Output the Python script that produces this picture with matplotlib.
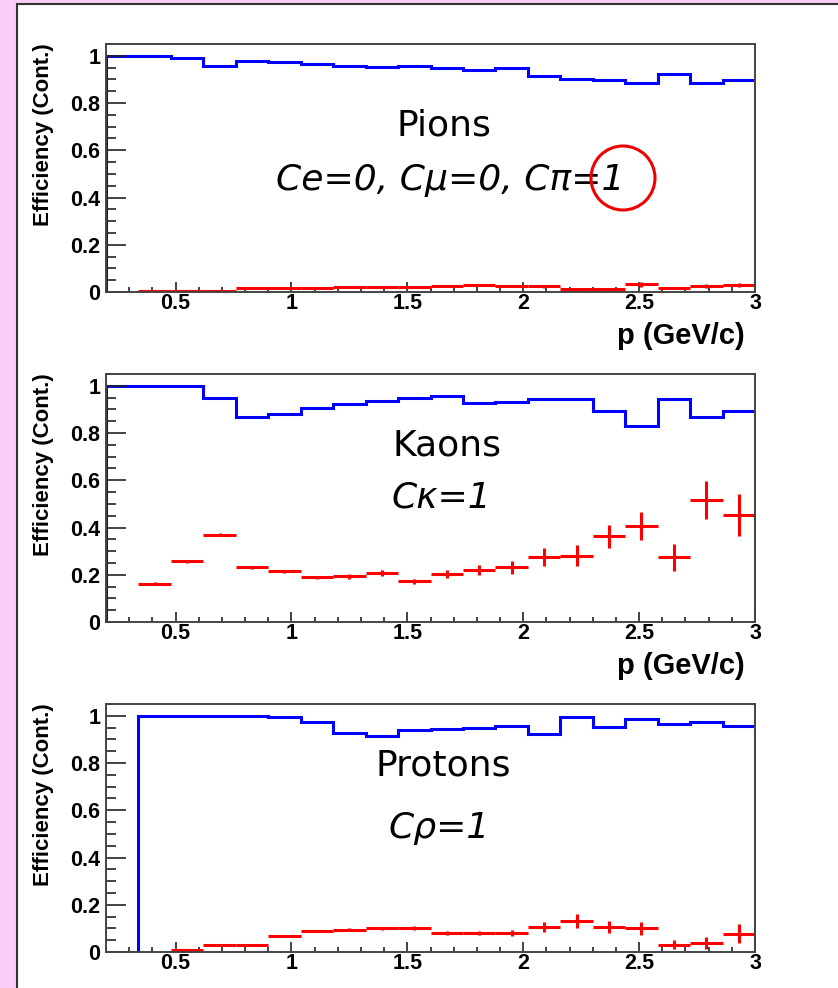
import numpy as np
import matplotlib.pyplot as plt
from matplotlib.patches import Rectangle, Ellipse
from matplotlib.ticker import MultipleLocator

# 20 bins in p from 0.2 to 3 GeV/c
edges = np.linspace(0.2, 3.0, 21)
centers = 0.5*(edges[:-1] + edges[1:])

# Pions
pi_eff = [1.0, 1.0, 0.99, 0.957, 0.98, 0.972, 0.965, 0.957, 0.952, 0.956,
          0.948, 0.94, 0.948, 0.914, 0.902, 0.897, 0.884, 0.925, 0.884, 0.897]
pi_cont = [np.nan, 0.004, 0.004, 0.004, 0.017, 0.017, 0.017, 0.023, 0.023, 0.023,
           0.025, 0.03, 0.025, 0.025, 0.011, 0.011, 0.033, 0.017, 0.025, 0.03]
pi_err = [0, 0.003, 0.003, 0.003, 0.004, 0.004, 0.004, 0.004, 0.004, 0.004,
          0.005, 0.005, 0.005, 0.006, 0.006, 0.006, 0.01, 0.006, 0.007, 0.01]

# Kaons
k_eff = [1.0, 1.0, 1.0, 0.949, 0.868, 0.881, 0.905, 0.925, 0.936, 0.949,
         0.957, 0.926, 0.932, 0.943, 0.943, 0.894, 0.828, 0.943, 0.868, 0.894]
k_cont = [np.nan, 0.163, 0.257, 0.369, 0.231, 0.214, 0.189, 0.193, 0.207, 0.172,
          0.203, 0.22, 0.231, 0.277, 0.281, 0.363, 0.406, 0.275, 0.518, 0.455]
k_err = [0, 0.008, 0.006, 0.006, 0.005, 0.007, 0.007, 0.01, 0.012, 0.012,
         0.018, 0.02, 0.028, 0.038, 0.046, 0.048, 0.058, 0.057, 0.08, 0.089]

# Protons
p_eff = [0.0, 1.0, 1.0, 1.0, 1.0, 0.994, 0.973, 0.929, 0.916, 0.942,
         0.945, 0.949, 0.955, 0.925, 0.993, 0.953, 0.986, 0.966, 0.974, 0.955]
p_cont = [np.nan, np.nan, 0.008, 0.03, 0.03, 0.068, 0.088, 0.095, 0.10, 0.10,
          0.081, 0.081, 0.081, 0.106, 0.133, 0.106, 0.10, 0.031, 0.038, 0.077]
p_err = [0, 0, 0.005, 0.004, 0.004, 0.005, 0.005, 0.006, 0.007, 0.008,
         0.009, 0.01, 0.012, 0.023, 0.03, 0.026, 0.027, 0.02, 0.025, 0.041]

# name, condition, data, x label?, text positions (axes fraction)
panels = [
    ("Pions", "Ce=0, Cμ=0, Cπ=1", pi_eff, pi_cont, pi_err, True, (0.521, 0.673), (0.53, 0.45)),
    ("Kaons", "Cκ=1", k_eff, k_cont, k_err, True, (0.526, 0.712), (0.516, 0.50)),
    ("Protons", "Cρ=1", p_eff, p_cont, p_err, False, (0.52, 0.753), (0.514, 0.50)),
]

W, H = 838, 988
fig = plt.figure(figsize=(W/100, H/100), dpi=100)
fig.patch.set_facecolor('#facdf9')
# white slide area with a dark frame (left and top edges only visible)
fig.patches.append(Rectangle((17/W, -0.05), 1, 1.05 - 4/H, transform=fig.transFigure,
                             facecolor='white', edgecolor='#333333', lw=1.5, zorder=-5))

tickfont = dict(family='Liberation Sans', weight='bold', size=15.5)
tops = [44, 374, 704]
for (name, cond, eff, cont, err, xlab, pos1, pos2), top in zip(panels, tops):
    ax = fig.add_axes([106/W, 1 - (top + 248)/H, 649/W, 248/H])
    ax.stairs(eff, edges, color='#0000ff', lw=2.2)
    ax.errorbar(centers, cont, xerr=0.07, yerr=err, fmt='none', ecolor='#ff0000',
                elinewidth=2.2, capsize=0)
    ax.set_xlim(0.2, 3.0)
    ax.set_ylim(0, 1.05)
    ax.xaxis.set_minor_locator(MultipleLocator(0.1))
    ax.yaxis.set_minor_locator(MultipleLocator(0.05))
    ax.set_xticks([0.5, 1, 1.5, 2, 2.5, 3])
    ax.set_xticklabels(['0.5', '1', '1.5', '2', '2.5', '3'], fontdict=tickfont)
    ax.set_yticks([0, 0.2, 0.4, 0.6, 0.8, 1])
    ax.set_yticklabels(['0', '0.2', '0.4', '0.6', '0.8', '1'], fontdict=tickfont)
    ax.tick_params(axis='y', which='major', direction='in', length=14.4, width=1.2,
                   color='#222222', pad=4)
    ax.tick_params(axis='y', which='minor', direction='in', length=7.2, width=1.2, color='#222222')
    ax.tick_params(axis='x', which='major', direction='in', length=7.2, width=1.2,
                   color='#222222', pad=1)
    ax.tick_params(axis='x', which='minor', direction='in', length=3.6, width=1.2, color='#222222')
    for s in ax.spines.values():
        s.set_color('#444444')
        s.set_linewidth(1.4)
    fig.text(44/W, 1 - (top - 1)/H, 'Efficiency (Cont.)', rotation=90, ha='center', va='top',
             family='Liberation Sans', weight='bold', size=16)
    if xlab:
        fig.text(745/W, 1 - (top + 292)/H, 'p (GeV/c)', ha='right', va='center',
                 family='Liberation Sans', weight='bold', size=21)
    ax.text(*pos1, name, transform=ax.transAxes, ha='center', va='center',
            family='DejaVu Sans', size=26)
    ax.text(*pos2, cond, transform=ax.transAxes, ha='center', va='center',
            family='DejaVu Sans', style='italic', size=26)

# red circle highlighting the pion condition
fig.patches.append(Ellipse((623/W, 1 - 178/H), 64/W, 64/H, transform=fig.transFigure,
                           facecolor='none', edgecolor='#ee0000', lw=2.2, zorder=5))

fig.savefig('out.png', dpi=100, facecolor=fig.get_facecolor())
